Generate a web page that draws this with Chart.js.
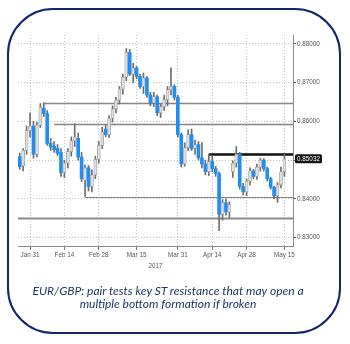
<!DOCTYPE html>
<html>
<head>
<meta charset="utf-8">
<script src="https://cdn.jsdelivr.net/npm/chart.js@4.4.1/dist/chart.umd.min.js"></script>
<style>
  html, body { margin: 0; padding: 0; background: #fff; }
  #wrap { position: relative; width: 350px; height: 344px; overflow: hidden; }
  #frame { position: absolute; left: 7px; top: 8px; width: 330px; height: 322px;
           border: 2.5px solid #12266a; border-radius: 46px; }
  #chart { position: absolute; left: 0; top: 0; }
  #caption { position: absolute; left: 0; width: 336px; top: 284px; text-align: center;
             font: italic 12px Lato, "Open Sans", sans-serif; color: #1f3864; line-height: 13px; }
</style>
</head>
<body>
<div id="wrap">
  <div id="frame"></div>
  <canvas id="chart" width="350" height="344"></canvas>
  <div id="caption">EUR/GBP: pair tests key ST resistance that may open a<br>multiple bottom formation if broken</div>
</div>
<script>
// Trading days, 2017
const dates = [
  'Jan 26','Jan 27','Jan 30','Jan 31',
  'Feb 1','Feb 2','Feb 3','Feb 6','Feb 7','Feb 8','Feb 9','Feb 10','Feb 13','Feb 14','Feb 15','Feb 16','Feb 17',
  'Feb 20','Feb 21','Feb 22','Feb 23','Feb 24','Feb 27','Feb 28',
  'Mar 1','Mar 2','Mar 3','Mar 6','Mar 7','Mar 8','Mar 9','Mar 10','Mar 13','Mar 14','Mar 15','Mar 16','Mar 17',
  'Mar 20','Mar 21','Mar 22','Mar 23','Mar 24','Mar 27','Mar 28','Mar 29','Mar 30','Mar 31',
  'Apr 3','Apr 4','Apr 5','Apr 6','Apr 7','Apr 10','Apr 11','Apr 12','Apr 13','Apr 14',
  'Apr 17','Apr 18','Apr 19','Apr 20','Apr 21','Apr 24','Apr 25','Apr 26','Apr 27','Apr 28',
  'May 1','May 2','May 3','May 4','May 5','May 8','May 9','May 10','May 11','May 12','May 15','May 16','May 17'
];

// Dates that carry an axis label and a vertical grid line
const tickDates = ['Jan 31','Feb 14','Feb 28','Mar 15','Mar 31','Apr 14','Apr 28','May 15'];

// EUR/GBP daily OHLC
const opens = [
  0.8509,0.8485,0.8525,0.8576,0.8588,0.8515,0.8590,0.8634,0.8620,0.8543,
  0.8536,0.8530,0.8520,0.8468,0.8492,0.8522,0.8550,0.8556,0.8508,0.8448,
  0.8480,0.8432,0.8462,0.8502,0.8538,0.8580,0.8566,0.8608,0.8632,0.8655,
  0.8683,0.8714,0.8778,0.8722,0.8738,0.8716,0.8690,0.8712,0.8668,0.8648,
  0.8664,0.8622,0.8638,0.8656,0.8682,0.8690,0.8662,0.8566,0.8490,0.8532,
  0.8566,0.8530,0.8540,0.8506,0.8490,0.8470,0.8496,0.8478,0.8465,0.8360,
  0.8390,0.8366,0.8470,0.8492,0.8515,0.8432,0.8418,0.8446,0.8472,0.8458,
  0.8482,0.8500,0.8478,0.8452,0.8430,0.8408,0.8436,0.8470
];
const highs = [
  0.8518,0.8530,0.8588,0.8622,0.8600,0.8598,0.8646,0.8648,0.8628,0.8556,
  0.8548,0.8540,0.8530,0.8500,0.8530,0.8560,0.8594,0.8570,0.8520,0.8488,
  0.8486,0.8475,0.8510,0.8548,0.8585,0.8590,0.8615,0.8640,0.8662,0.8690,
  0.8722,0.8788,0.8786,0.8750,0.8742,0.8722,0.8725,0.8716,0.8675,0.8675,
  0.8668,0.8645,0.8668,0.8690,0.8738,0.8695,0.8668,0.8570,0.8545,0.8578,
  0.8580,0.8552,0.8548,0.8545,0.8500,0.8515,0.8512,0.8484,0.8470,0.8398,
  0.8400,0.8392,0.8498,0.8535,0.8520,0.8440,0.8452,0.8480,0.8476,0.8490,
  0.8505,0.8504,0.8482,0.8456,0.8432,0.8442,0.8482,0.8515
];
const lows = [
  0.8476,0.8472,0.8515,0.8560,0.8505,0.8508,0.8584,0.8612,0.8538,0.8525,
  0.8520,0.8512,0.8458,0.8455,0.8480,0.8510,0.8535,0.8500,0.8445,0.8406,
  0.8420,0.8418,0.8452,0.8492,0.8530,0.8560,0.8558,0.8598,0.8622,0.8645,
  0.8670,0.8705,0.8718,0.8700,0.8710,0.8685,0.8672,0.8662,0.8640,0.8638,
  0.8615,0.8610,0.8628,0.8640,0.8668,0.8655,0.8560,0.8482,0.8484,0.8525,
  0.8525,0.8515,0.8500,0.8480,0.8462,0.8460,0.8470,0.8458,0.8318,0.8345,
  0.8358,0.8352,0.8455,0.8482,0.8425,0.8410,0.8408,0.8435,0.8452,0.8450,
  0.8472,0.8472,0.8446,0.8425,0.8400,0.8391,0.8428,0.8458
];
const closes = [
  0.8483,0.8525,0.8576,0.8588,0.8515,0.8590,0.8636,0.8620,0.8543,0.8534,
  0.8527,0.8517,0.8468,0.8492,0.8522,0.8550,0.8560,0.8508,0.8452,0.8480,
  0.8432,0.8462,0.8502,0.8538,0.8572,0.8566,0.8608,0.8632,0.8655,0.8683,
  0.8714,0.8778,0.8722,0.8738,0.8716,0.8690,0.8712,0.8668,0.8648,0.8664,
  0.8622,0.8638,0.8656,0.8682,0.8690,0.8662,0.8566,0.8490,0.8532,0.8566,
  0.8530,0.8540,0.8506,0.8490,0.8470,0.8496,0.8478,0.8465,0.8360,0.8390,
  0.8366,0.8385,0.8492,0.8515,0.8432,0.8418,0.8446,0.8472,0.8458,0.8482,
  0.8500,0.8478,0.8452,0.8430,0.8408,0.8436,0.8470,0.85032
];

// Support / resistance levels and the day each one starts from (null = whole range)
const levelValues = [0.8648, 0.8594, 0.8515, 0.8406, 0.8350];
const levelFrom   = ['Feb 6', 'Feb 9', 'Apr 13', 'Feb 22', null];

// Line styles for the levels
const levelColors = ['#858585', '#858585', '#111111', '#858585', '#8a8a8a'];
const levelWidths = [1.3, 1.3, 2.6, 1.2, 2.2];

const UP = '#dedede', UP_EDGE = '#9a9a9a', DOWN = '#1f8ef1';
const TICK_FONT = { family: '"Liberation Sans Narrow", "Liberation Sans", sans-serif', size: 6.3 };

const levelsPlugin = {
  id: 'levels',
  beforeDatasetsDraw(chart) {
    const { ctx, chartArea, scales: { x, y } } = chart;
    ctx.save();
    levelValues.forEach((v, k) => {
      const py = Math.round(y.getPixelForValue(v)) + 0.5;
      const px = levelFrom[k] === null ? chartArea.left : x.getPixelForValue(dates.indexOf(levelFrom[k]));
      ctx.strokeStyle = levelColors[k];
      ctx.lineWidth = levelWidths[k];
      ctx.beginPath();
      ctx.moveTo(px, py);
      ctx.lineTo(chartArea.right, py);
      ctx.stroke();
    });
    ctx.restore();
  },
  afterDraw(chart) {
    // last-price tag on the price axis
    const { ctx, chartArea, scales: { y } } = chart;
    const last = closes[closes.length - 1];
    const py = y.getPixelForValue(last);
    const text = last.toFixed(5);
    ctx.save();
    ctx.font = `${TICK_FONT.size}px ${TICK_FONT.family}`;
    const w = Math.ceil(ctx.measureText(text).width) + 4, h = 9, x0 = chartArea.right + 2;
    ctx.fillStyle = '#151515';
    ctx.beginPath();
    ctx.roundRect(x0, py - h / 2, w, h, 1.5);
    ctx.fill();
    ctx.fillStyle = '#ffffff';
    ctx.textAlign = 'center';
    ctx.textBaseline = 'middle';
    ctx.fillText(text, x0 + w / 2, py + 0.5);
    ctx.restore();
  }
};

const isMarked = (i) => tickDates.includes(dates[i]);

new Chart(document.getElementById('chart'), {
  type: 'bar',
  data: {
    labels: dates,
    datasets: [
      {
        label: 'range',
        data: highs.map((h, i) => [lows[i], h]),
        backgroundColor: '#6e6e6e',
        barThickness: 1,
        grouped: false,
        order: 2
      },
      {
        label: 'body',
        data: opens.map((o, i) => [o, closes[i]]),
        backgroundColor: opens.map((o, i) => closes[i] >= o ? UP : DOWN),
        borderColor: opens.map((o, i) => closes[i] >= o ? UP_EDGE : DOWN),
        borderWidth: opens.map((o, i) => closes[i] >= o ? 0.7 : 0),
        borderSkipped: false,
        barThickness: 3,
        grouped: false,
        order: 1
      }
    ]
  },
  options: {
    responsive: false,
    devicePixelRatio: 1,
    animation: false,
    layout: { padding: { left: 18, top: 35, right: 0, bottom: 74 } },
    plugins: { legend: { display: false }, tooltip: { enabled: false } },
    scales: {
      x: {
        offset: true,
        grid: {
          offset: false,
          color: (c) => isMarked(c.index) ? '#c4c4c4' : 'rgba(0,0,0,0)',
          tickColor: (c) => isMarked(c.index) ? '#777' : 'rgba(0,0,0,0)',
          tickLength: 3
        },
        border: { display: true, color: '#8a8a8a', width: 1, dash: [1, 2] },
        ticks: {
          autoSkip: false, maxRotation: 0, padding: 2,
          font: TICK_FONT, color: '#555',
          callback: (v, i) => isMarked(i) ? dates[i] : ''
        },
        title: { display: true, text: '2017', font: TICK_FONT, color: '#555', padding: { top: 1, bottom: 0 } }
      },
      y: {
        position: 'right',
        min: 0.8276, max: 0.8823,
        afterFit: (s) => { s.width = 57; },
        grid: { color: '#c4c4c4', tickColor: '#555', tickLength: 3 },
        border: { display: true, color: '#8a8a8a', width: 1, dash: [1, 2] },
        ticks: {
          stepSize: 0.01, includeBounds: false, padding: 1,
          font: TICK_FONT, color: '#555',
          callback: (v) => v.toFixed(5)
        }
      }
    }
  },
  plugins: [levelsPlugin]
});
</script>
</body>
</html>
